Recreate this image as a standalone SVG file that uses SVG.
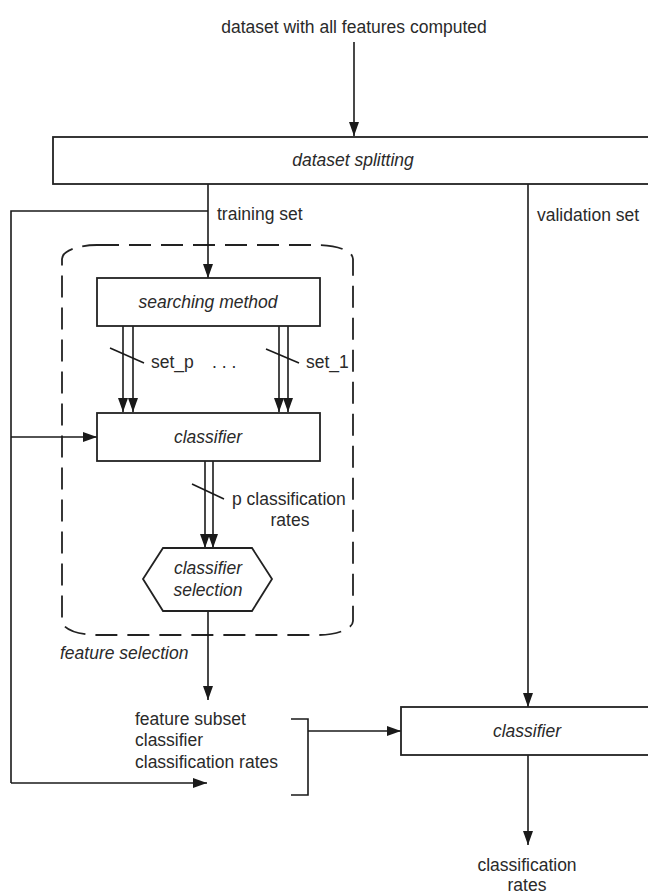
<svg xmlns="http://www.w3.org/2000/svg" width="648" height="895" viewBox="0 0 648 895">
  <defs>
    <marker id="ah" viewBox="0 0 14 10" refX="14" refY="5" markerWidth="14" markerHeight="10" markerUnits="userSpaceOnUse" orient="auto">
      <path d="M0,0 L14,5 L0,10 z" fill="#1a1a1a"/>
    </marker>
    <style>
      text { font-family: "Liberation Sans", Arial, sans-serif; font-size: 17.5px; fill: #2a2a2a; }
      .it { font-style: italic; }
      .mid { text-anchor: middle; }
      .box { fill: #fff; stroke: #222; stroke-width: 1.8; }
      .ln { fill: none; stroke: #1a1a1a; stroke-width: 1.6; }
      .arr { fill: none; stroke: #1a1a1a; stroke-width: 1.6; marker-end: url(#ah); }
      .dash { fill: none; stroke: #222; stroke-width: 1.8; stroke-dasharray: 22 10; }
    </style>
  </defs>
  <rect width="648" height="895" fill="#fff"/>

  <g id="feature-selection-group">
    <rect class="dash" x="62" y="245" width="291" height="390" rx="35" ry="14"/>
    <text class="it" x="60" y="659">feature selection</text>
  </g>

  <g id="connectors">
    <line class="arr" x1="354" y1="42" x2="354" y2="136"/>
    <line class="arr" x1="208" y1="184" x2="208" y2="278"/>
    <polyline class="ln" points="208,211 11,211 11,783"/>
    <line class="arr" x1="11" y1="437" x2="97" y2="437"/>
    <line class="arr" x1="11" y1="783" x2="207" y2="783"/>
    <line class="arr" x1="528" y1="184" x2="528" y2="707"/>
    <line class="arr" x1="123" y1="326" x2="123" y2="412"/>
    <line class="arr" x1="133" y1="326" x2="133" y2="412"/>
    <line class="arr" x1="279" y1="326" x2="279" y2="412"/>
    <line class="arr" x1="288" y1="326" x2="288" y2="412"/>
    <line class="ln" x1="110" y1="348" x2="144" y2="363"/>
    <line class="ln" x1="266" y1="349" x2="299" y2="363"/>
    <line class="arr" x1="205" y1="461" x2="205" y2="548"/>
    <line class="arr" x1="213" y1="461" x2="213" y2="548"/>
    <line class="ln" x1="192" y1="484" x2="224" y2="499"/>
    <line class="arr" x1="208" y1="611" x2="208" y2="700"/>
    <polyline class="ln" points="291,719 308,719 308,795 291,795"/>
    <line class="arr" x1="308" y1="731" x2="401" y2="731"/>
    <line class="arr" x1="528" y1="755" x2="528" y2="845"/>
    <text x="217" y="220">training set</text>
    <text x="537" y="221">validation set</text>
    <text x="151" y="368">set_p</text>
    <text x="212" y="368">. . .</text>
    <text x="306" y="368">set_1</text>
    <text x="232" y="505">p classification</text>
    <text class="mid" x="290" y="526">rates</text>
  </g>

  <g id="input-label">
    <text class="mid" x="354" y="33">dataset with all features computed</text>
  </g>

  <g id="dataset-splitting">
    <rect class="box" x="53" y="137" width="600" height="47"/>
    <text class="it mid" x="353" y="166">dataset splitting</text>
  </g>

  <g id="searching-method">
    <rect class="box" x="97" y="278" width="223" height="48"/>
    <text class="it mid" x="208" y="308">searching method</text>
  </g>

  <g id="classifier-1">
    <rect class="box" x="97" y="413" width="223" height="48"/>
    <text class="it mid" x="208" y="443">classifier</text>
  </g>

  <g id="classifier-selection">
    <polygon class="box" points="163,548 252,548 272,579 252,611 163,611 143,579"/>
    <text class="it mid" x="208" y="574">classifier</text>
    <text class="it mid" x="208" y="596">selection</text>
  </g>

  <g id="result-set">
    <text x="135" y="725">feature subset</text>
    <text x="135" y="746">classifier</text>
    <text x="135" y="768">classification rates</text>
  </g>

  <g id="classifier-2">
    <rect class="box" x="401" y="707" width="252" height="48"/>
    <text class="it mid" x="527" y="737">classifier</text>
  </g>

  <g id="output-label">
    <text class="mid" x="527" y="871">classification</text>
    <text class="mid" x="527" y="891">rates</text>
  </g>
</svg>
